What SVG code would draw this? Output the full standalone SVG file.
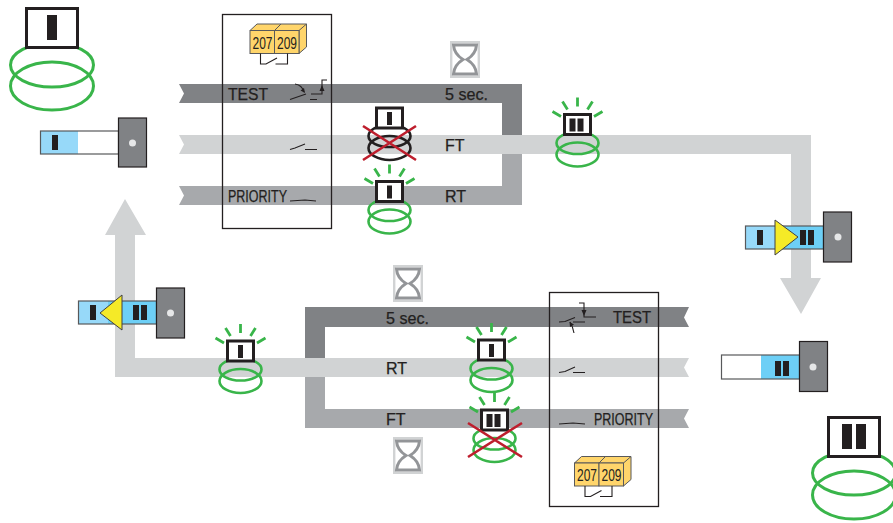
<svg xmlns="http://www.w3.org/2000/svg" xmlns:xlink="http://www.w3.org/1999/xlink" width="893" height="523" viewBox="0 0 893 523">
<style>
text{font-family:"Liberation Sans",Arial,sans-serif;fill:#231f20}
.lbl{font-size:16px;stroke:#231f20;stroke-width:.25}
.num{font-size:17px}
.coil{fill:none;stroke:#39b54a;stroke-width:2.6}
.coilb{fill:none;stroke:#39b54a;stroke-width:3}
.coilk{fill:none;stroke:#231f20;stroke-width:2.6}
.ray{stroke:#39b54a;stroke-width:2.8;fill:none}
.lamp{fill:#fff;stroke:#231f20;stroke-width:3}
.bar{fill:#231f20}
.x{stroke:#be1e2d;stroke-width:2.6;fill:none}
.head{fill:#808285;stroke:#231f20;stroke-width:1.2}
.dot{fill:#e6e7e8}
.tube{stroke:#58595b;stroke-width:1.2;fill:none}
.tri{fill:#f5ea27;stroke:#414042;stroke-width:1}
.sw{fill:none;stroke:#231f20;stroke-width:1.1}
.box{fill:none;stroke:#231f20;stroke-width:1.3}
.y{fill:#ffd56b;stroke:#58595b;stroke-width:1}
.d{fill:#808285}.m{fill:#a7a9ac}.l{fill:#d1d3d4}
.hf{fill:#fff;stroke:#d1d3d4;stroke-width:2.4}
.hg{fill:none;stroke:#939598;stroke-width:3}
</style>
<defs>
<g id="rays">
<path class="ray" d="M0-17V-8M-15-13L-10-5M15-13L10-5M-25-3L-16.500 2M25-3L16.500 2"/>
</g>
<g id="coils">
<ellipse class="coil" cx="0" cy="28.500" rx="21" ry="11"/>
<ellipse class="coil" cx="0" cy="40" rx="21" ry="12"/>
</g>
<g id="rect1">
<rect class="lamp" x="-13" y="0" width="26" height="20"/>
<rect class="bar" x="-2.500" y="4" width="5" height="13"/>
</g>
<g id="rect2">
<rect class="lamp" x="-13" y="0" width="26" height="20"/>
<rect class="bar" x="-8" y="4" width="6" height="13"/>
<rect class="bar" x="0" y="4" width="6" height="13"/>
</g>
<g id="hourglass">
<rect class="hf" x="1.200" y="1.200" width="27.600" height="34.600"/>
<path class="hg" d="M3.500 4H26.500C26 11 21 16 17 18.500C21 21 26 26 26.500 33H3.500C4 26 9 21 13 18.500C9 16 4 11 3.500 4Z"/>
</g>
<g id="relay">
<path class="y" d="M0 6.500L7 0H56.500V23L49 29.500V6.500ZM24.500 6.500L31 0M49 6.500L56.500 0"/>
<rect class="y" x="0" y="6.500" width="24.500" height="23"/>
<rect class="y" x="24.500" y="6.500" width="24.500" height="23"/>
<text class="num" x="12.500" y="24.500" text-anchor="middle" textLength="20" lengthAdjust="spacingAndGlyphs">207</text>
<text class="num" x="37" y="24.500" text-anchor="middle" textLength="20" lengthAdjust="spacingAndGlyphs">209</text>
<path class="sw" d="M10.500 29.500V40H16L27 34M25.500 40H37.500V29.500"/>
</g>
</defs>

<g id="connectors">
<path class="m" d="M179 186H502V154H522V205H179L184 195.500Z"/>
<path class="d" d="M179 84H522V136H502V103H179L184 93.500Z"/>
<path class="l" d="M179 135H811V278H821L801 314L780 278H791V154H179L184 144.500Z"/>
<path class="m" d="M305 377H325V409H689L684 418.500L689 428H305Z"/>
<path class="d" d="M305 307H689L684 317.500L689 327H325V358H305Z"/>
<path class="l" d="M689 358L684 367.500L689 377H115V235H105L125 199L146 235H135V358Z"/>
</g>

<g id="labels">
<text class="lbl" x="228" y="100" textLength="40" lengthAdjust="spacingAndGlyphs">TEST</text>
<text class="lbl" x="445" y="100" textLength="43" lengthAdjust="spacingAndGlyphs">5 sec.</text>
<text class="lbl" x="445" y="151">FT</text>
<text class="lbl" x="228" y="202" textLength="59" lengthAdjust="spacingAndGlyphs">PRIORITY</text>
<text class="lbl" x="445" y="202">RT</text>
<text class="lbl" x="386" y="324" textLength="43" lengthAdjust="spacingAndGlyphs">5 sec.</text>
<text class="lbl" x="613" y="323" textLength="38" lengthAdjust="spacingAndGlyphs">TEST</text>
<text class="lbl" x="386" y="374">RT</text>
<text class="lbl" x="386" y="425">FT</text>
<text class="lbl" x="594" y="425" textLength="59" lengthAdjust="spacingAndGlyphs">PRIORITY</text>
</g>

<g id="panel-top">
<rect class="box" x="222.500" y="14.500" width="109" height="214"/>
<use xlink:href="#relay" href="#relay" transform="translate(250 24)"/>
<path class="sw" d="M290 99.500L306 94M310 99.500H317M311 94H322V80H327M295 84Q302 85 304 92"/>
<path class="bar" d="M322 85L324.500 91H319.500ZM305 93L300.500 90.500L304 88Z"/>
<path class="sw" d="M290 149.500L295 148L305 144M305 149.500H317M290 201L305 200L316 201"/>
</g>
<g id="panel-bottom">
<rect class="box" x="549.500" y="292.500" width="109" height="214"/>
<use xlink:href="#relay" href="#relay" transform="translate(574.500 456.500)"/>
<path class="sw" d="M559 322L565 321.500L575 317.500M573 322H585M579 303H584V317H596M574 333Q573 327 570 322"/>
<path class="bar" d="M584 316L581.500 310H586.500ZM569.500 322L574 324.500L570 327Z"/>
<path class="sw" d="M559 372.500L565 371.500L575 367M573 372.500H585M559 424L573 423L585 424"/>
</g>

<g id="lamp-big-1">
<ellipse class="coilb" cx="52" cy="65" rx="41.500" ry="22"/>
<ellipse class="coilb" cx="52" cy="86" rx="41.500" ry="24"/>
<rect class="lamp" x="26.500" y="8.500" width="51" height="39"/>
<rect class="bar" x="47" y="15" width="10" height="25"/>
</g>
<g id="lamp-big-2">
<ellipse class="coilb" cx="854" cy="473" rx="41.500" ry="22"/>
<ellipse class="coilb" cx="854" cy="495" rx="41.500" ry="24"/>
<rect class="lamp" x="828.500" y="417.500" width="51" height="39"/>
<rect class="bar" x="842" y="424" width="10" height="25"/>
<rect class="bar" x="856" y="424" width="10" height="25"/>
</g>

<g id="lamp-ft-off">
<ellipse class="coilk" cx="389.500" cy="136" rx="21" ry="11"/>
<ellipse class="coilk" cx="389.500" cy="148" rx="21" ry="12"/>
<use xlink:href="#rect1" href="#rect1" transform="translate(389.500 108)"/>
<path class="x" d="M363 126L416 160M416 126L363 160"/>
</g>
<g id="lamp-rt-top" transform="translate(389.500 181.500)">
<use xlink:href="#rays" href="#rays"/><use xlink:href="#coils" href="#coils"/><use xlink:href="#rect1" href="#rect1"/>
</g>
<g id="lamp-ft-top" transform="translate(577.500 114.500)">
<use xlink:href="#rays" href="#rays"/><use xlink:href="#coils" href="#coils"/><use xlink:href="#rect2" href="#rect2"/>
</g>
<g id="lamp-rt-left" transform="translate(240.500 341)">
<use xlink:href="#rays" href="#rays"/><use xlink:href="#coils" href="#coils"/><use xlink:href="#rect1" href="#rect1"/>
</g>
<g id="lamp-rt-bottom" transform="translate(491.500 340)">
<use xlink:href="#rays" href="#rays"/><use xlink:href="#coils" href="#coils"/><use xlink:href="#rect1" href="#rect1"/>
</g>
<g id="lamp-ft-bottom">
<g transform="translate(494.500 410)"><use xlink:href="#rays" href="#rays"/><use xlink:href="#coils" href="#coils"/><use xlink:href="#rect2" href="#rect2"/></g>
<path class="x" d="M468 423L522 457M522 423L468 457"/>
</g>

<g id="hourglass-1"><use xlink:href="#hourglass" href="#hourglass" transform="translate(450 41)"/></g>
<g id="hourglass-2"><use xlink:href="#hourglass" href="#hourglass" transform="translate(393 265)"/></g>
<g id="hourglass-3"><use xlink:href="#hourglass" href="#hourglass" transform="translate(393 437)"/></g>

<g id="cylinder-1">
<rect x="40.500" y="131" width="78" height="23" fill="#fff"/>
<rect x="41" y="131" width="37" height="23" fill="#97d9f9"/>
<rect class="tube" x="40.500" y="131" width="78" height="23"/>
<rect class="bar" x="52" y="135" width="6" height="15"/>
<rect class="head" x="118.500" y="118" width="28" height="49"/>
<circle class="dot" cx="132.500" cy="143" r="3.500"/>
</g>
<g id="cylinder-2">
<rect x="745.500" y="226" width="30" height="23" fill="#97d9f9"/>
<rect x="775" y="226" width="49" height="23" fill="#6dcff6"/>
<rect class="tube" x="745.500" y="226" width="78" height="23"/>
<rect class="bar" x="757" y="230" width="6" height="15"/>
<rect class="bar" x="800" y="230" width="6" height="15"/>
<rect class="bar" x="808" y="230" width="6" height="15"/>
<path class="tri" d="M775 220L798 237L775 255Z"/>
<rect class="head" x="823.500" y="212" width="28" height="50"/>
<circle class="dot" cx="838" cy="237" r="3.500"/>
</g>
<g id="cylinder-3">
<rect x="78.500" y="301" width="30" height="23" fill="#97d9f9"/>
<rect x="108" y="301" width="49" height="23" fill="#6dcff6"/>
<rect class="tube" x="78.500" y="301" width="78" height="23"/>
<rect class="bar" x="90" y="305" width="6" height="15"/>
<rect class="bar" x="133" y="305" width="6" height="15"/>
<rect class="bar" x="141" y="305" width="6" height="15"/>
<path class="tri" d="M122 295L100 313L122 330Z"/>
<rect class="head" x="156.500" y="288" width="28" height="50"/>
<circle class="dot" cx="170.500" cy="313" r="3.500"/>
</g>
<g id="cylinder-4">
<rect x="721.500" y="355" width="78" height="24" fill="#fff"/>
<rect x="761" y="355" width="38" height="24" fill="#6dcff6"/>
<rect class="tube" x="721.500" y="355" width="78" height="24"/>
<rect class="bar" x="775" y="361" width="6" height="15"/>
<rect class="bar" x="783" y="361" width="6" height="15"/>
<rect class="head" x="799.500" y="341.500" width="28" height="50"/>
<circle class="dot" cx="813" cy="367" r="3.500"/>
</g>
</svg>
